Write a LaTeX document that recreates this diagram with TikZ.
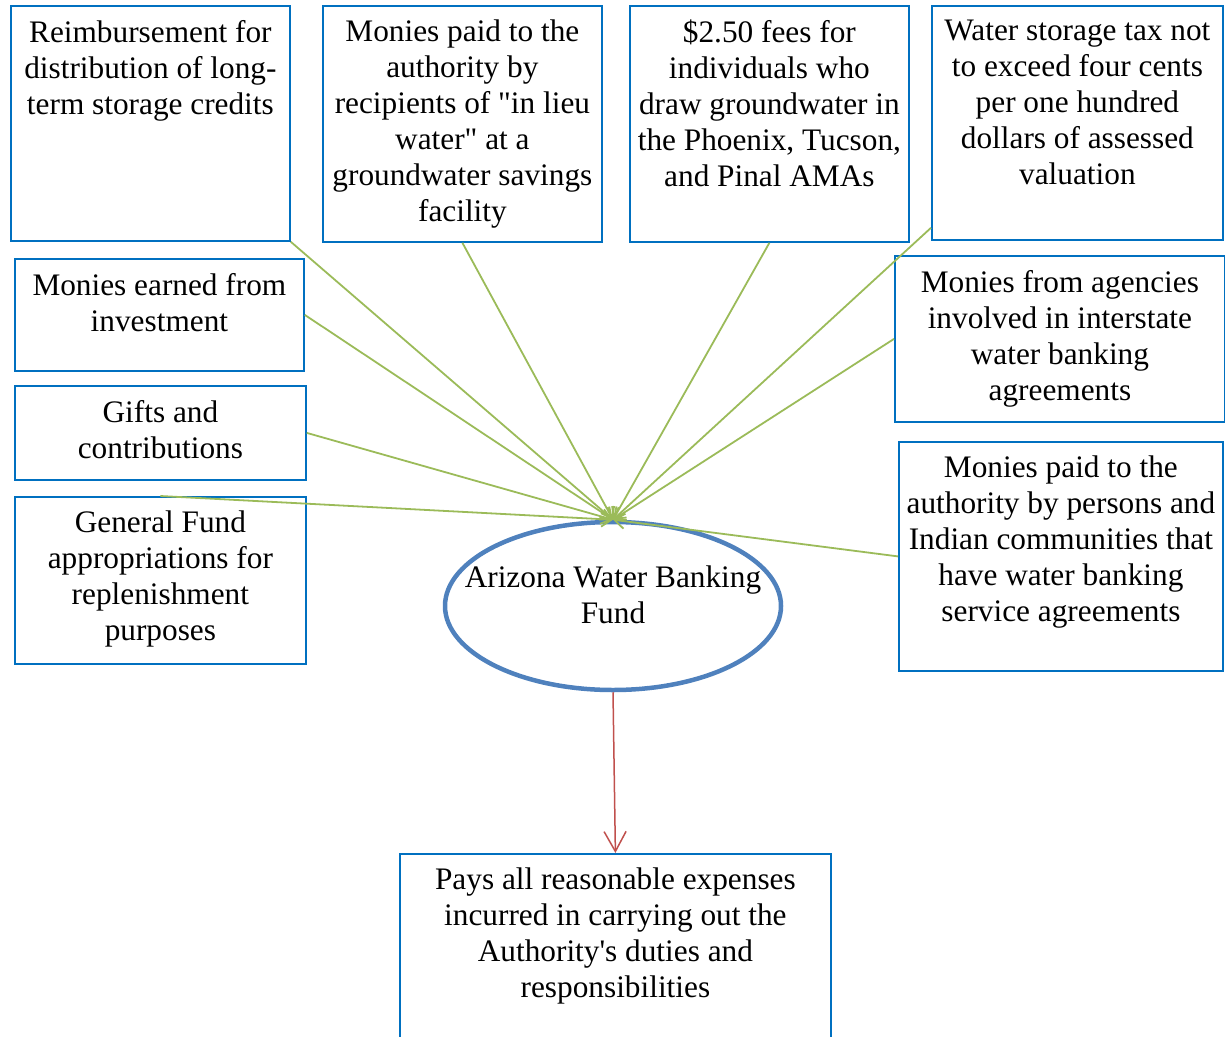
\documentclass[tikz,border=0pt]{standalone}
\usepackage{fontspec}
\setmainfont{Liberation Serif}[Ligatures=TeXOff]
\usetikzlibrary{shapes.geometric,arrows.meta,calc}
\definecolor{boxblue}{HTML}{0070C0}
\definecolor{ellblue}{HTML}{4F81BD}
\definecolor{lgreen}{HTML}{9BBB59}
\definecolor{ared}{HTML}{C0504D}
\begin{document}
\begin{tikzpicture}[x=1pt,y=-1pt,
  box/.style={draw=boxblue,line width=1.8pt,anchor=north west,inner sep=0pt},
  txt/.style={anchor=north,align=center,inner sep=0pt,font=\fontsize{31.3}{36}\selectfont,execute at begin node=\strut},
  feed/.style={draw=lgreen,line width=1.8pt,-{Straight Barb[length=10pt,width=15pt]}},
  outflow/.style={draw=ared,line width=1.5pt,-{Straight Barb[length=20pt,width=22pt]}}]
\useasboundingbox (0,0) rectangle (1225,1036);
% boxes
\node[box,minimum width=279pt,minimum height=235pt] (b1) at (10,5) {};
\node[box,minimum width=279pt,minimum height=236pt] (b2) at (322,5) {};
\node[box,minimum width=279pt,minimum height=236pt] (b3) at (629,5) {};
\node[box,minimum width=291pt,minimum height=234pt] (b4) at (931,5) {};
\node[box,minimum width=289pt,minimum height=112pt] (b5) at (14,258) {};
\node[box,minimum width=291pt,minimum height=94pt] (b6) at (14,385) {};
\node[box,minimum width=291pt,minimum height=167pt] (b7) at (14,496) {};
\node[box,minimum width=330pt,minimum height=166pt] (b8) at (894,255) {};
\node[box,minimum width=324pt,minimum height=229pt] (b9) at (898,441) {};
\node[box,minimum width=431pt,minimum height=200pt] (b10) at (399,853) {};
% texts
\node[txt] (t1) at ($(b1.north)+(0,15)$) {Reimbursement for\\distribution of long-\\term storage credits};
\node[txt] (t2) at ($(b2.north)+(0,15)$) {Monies paid to the\\authority by\\recipients of "in lieu\\water" at a\\groundwater savings\\facility};
\node[txt] (t3) at ($(b3.north)+(0,15)$) {\$2.50 fees for\\individuals who\\draw groundwater in\\the Phoenix, Tucson,\\and Pinal AMAs};
\node[txt] (t4) at ($(b4.north)+(0,15)$) {Water storage tax not\\to exceed four cents\\per one hundred\\dollars of assessed\\valuation};
\node[txt] (t5) at ($(b5.north)+(0,15)$) {Monies earned from\\investment};
\node[txt] (t6) at ($(b6.north)+(0,15)$) {Gifts and\\contributions};
\node[txt] (t7) at ($(b7.north)+(0,15)$) {General Fund\\appropriations for\\replenishment\\purposes};
\node[txt] (t8) at ($(b8.north)+(0,15)$) {Monies from agencies\\involved in interstate\\water banking\\agreements};
\node[txt] (t9) at ($(b9.north)+(0,15)$) {Monies paid to the\\authority by persons and\\Indian communities that\\have water banking\\service agreements};
\node[txt] (t10) at ($(b10.north)+(0,15)$) {Pays all reasonable expenses\\incurred in carrying out the\\Authority's duties and\\responsibilities};
% ellipse
\node[ellipse,draw=ellblue,line width=4.5pt,minimum width=336pt,minimum height=168pt,inner sep=0pt] (e) at (613,606) {};
\node[txt] (et) at ($(e.north)+(0,46)$) {Arizona Water Banking\\Fund};
% connectors
\draw[feed] (b1.south east) -- (e.north);
\draw[feed] (b2.south) -- (e.north);
\draw[feed] (b3.south) -- (e.north);
\draw[feed] ($(b4.south west)+(0,-13)$) -- (e.north);
\draw[feed] (b5.east) -- (e.north);
\draw[feed] (b6.east) -- (e.north);
\draw[feed] (b7.north) -- (e.north);
\draw[feed] (b8.west) -- (e.north);
\draw[feed] (b9.west) -- (e.north);
\draw[outflow] (e.south) -- (b10.north);
\end{tikzpicture}
\end{document}
